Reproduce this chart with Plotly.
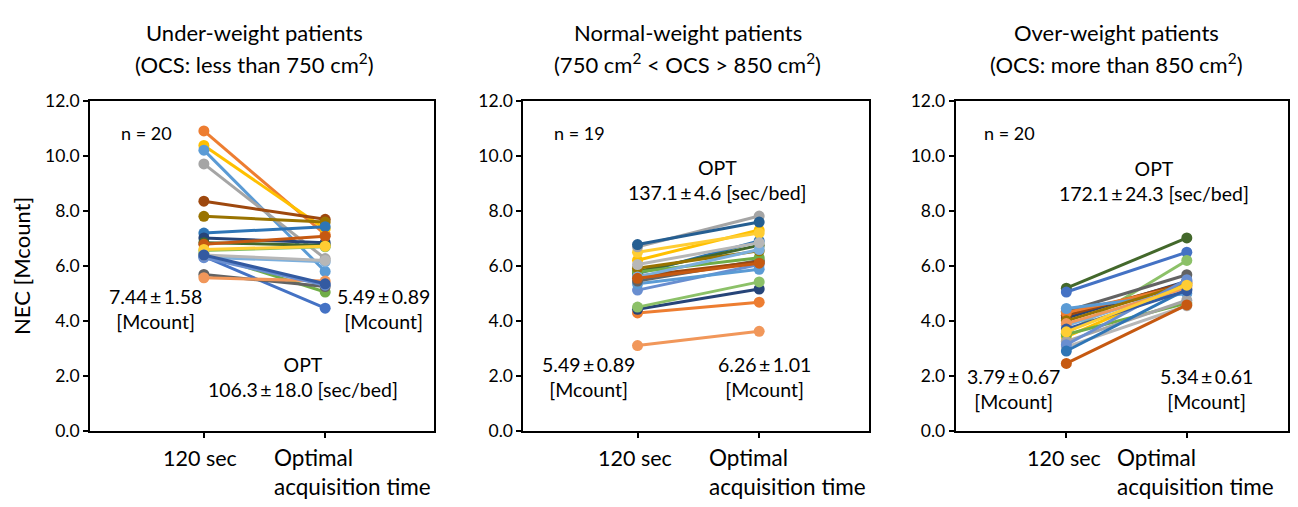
import plotly.graph_objects as go

categories = ["120 sec", "Optimal<br>acquisition time"]

# Under-weight patients (n = 20)
under_120 = [10.92, 10.39, 10.22, 9.72, 8.36, 7.81, 7.20, 7.02, 6.85, 6.79,
             6.45, 6.56, 6.60, 6.32, 6.35, 5.69, 5.57, 6.30, 6.40, 6.40]
under_opt = [7.15, 7.35, 5.80, 6.27, 7.70, 7.60, 7.43, 6.85, 6.75, 7.08,
             5.05, 6.70, 6.72, 6.15, 4.46, 5.25, 5.45, 5.30, 6.20, 5.35]
under_colors = ["#ED7D31", "#FFC000", "#5B9BD5", "#A5A5A5", "#9E480E", "#997300",
                "#2E75B6", "#264478", "#43682B", "#C65911", "#70AD47", "#8CC168",
                "#FFCD33", "#7CAFDD", "#4472C4", "#636363", "#F1975A", "#698ED0",
                "#B7B7B7", "#335AA1"]

# Normal-weight patients (n = 19)
normal_120 = [3.10, 4.29, 4.42, 4.50, 5.12, 5.35, 5.45, 5.63, 5.72, 5.80,
              5.78, 5.92, 6.21, 6.50, 6.70, 6.78, 5.60, 5.55, 6.05]
normal_opt = [3.62, 4.68, 5.16, 5.42, 6.05, 5.88, 6.20, 6.15, 6.91, 6.75,
              6.30, 6.55, 7.31, 7.20, 7.82, 7.60, 6.60, 6.10, 6.85]
normal_colors = ["#F1975A", "#ED7D31", "#264478", "#8CC168", "#698ED0", "#5B9BD5",
                 "#636363", "#9E480E", "#2E75B6", "#43682B", "#70AD47", "#997300",
                 "#FFC000", "#FFCD33", "#A5A5A5", "#255E91", "#7CAFDD", "#C65911",
                 "#B7B7B7"]

# Over-weight patients (n = 20)
over_120 = [5.19, 5.05, 3.55, 4.35, 4.10, 4.20, 4.30, 4.45, 4.00, 3.83,
            3.42, 3.50, 3.25, 3.05, 3.13, 2.90, 2.45, 3.90, 3.70, 3.60]
over_opt = [7.02, 6.50, 6.20, 5.68, 5.45, 5.40, 5.30, 5.00, 5.35, 5.25,
            5.35, 4.65, 4.75, 4.55, 5.50, 5.15, 4.58, 5.20, 5.10, 5.30]
over_colors = ["#43682B", "#4472C4", "#8CC168", "#636363", "#264478", "#9E480E",
               "#ED7D31", "#5B9BD5", "#997300", "#7CAFDD", "#FFC000", "#70AD47",
               "#A5A5A5", "#B7B7B7", "#698ED0", "#2E75B6", "#C65911", "#F1975A",
               "#335AA1", "#FFCD33"]

PM = "\u2009±\u2009"
title_line1 = ["Under-weight patients", "Normal-weight patients", "Over-weight patients"]
title_line2 = ["(OCS: less than 750 cm<sup>2</sup>)",
               "(750 cm<sup>2</sup> &lt; OCS &gt; 850 cm<sup>2</sup>)",
               "(OCS: more than 850 cm<sup>2</sup>)"]
n_labels = ["n = 20", "n = 19", "n = 20"]
left_labels = [f"7.44{PM}1.58<br>[Mcount]", f"5.49{PM}0.89<br>[Mcount]",
               f"3.79{PM}0.67<br>[Mcount]"]
right_labels = [f"5.49{PM}0.89<br>[Mcount]", f"6.26{PM}1.01<br>[Mcount]",
                f"5.34{PM}0.61<br>[Mcount]"]
opt_labels = [f"OPT<br>106.3{PM}18.0 [sec/bed]", f"OPT<br>137.1{PM}4.6 [sec/bed]",
              f"OPT<br>172.1{PM}24.3 [sec/bed]"]
y_ticks = [0, 2, 4, 6, 8, 10, 12]
y_ticklabels = ["0.0", "2.0", "4.0", "6.0", "8.0", "10.0", "12.0"]

FONT = "Lato, 'Open Sans', sans-serif"
# figure sized to fit inside the window together with the page's 8px body margin
OFF = 8
W, H = 1298 - 2 * OFF, 507 - 2 * OFF


def px(x):
    return min(1.0, max(0.0, (x - OFF) / W))


def py(y):
    return min(1.0, max(0.0, 1 - (y - OFF) / H))


panels = [(under_120, under_opt, under_colors),
          (normal_120, normal_opt, normal_colors),
          (over_120, over_opt, over_colors)]

px_left = [90, 524, 957]
px_right = [435, 870, 1297]
x_ranges = [[-0.94, 1.9], [-0.94, 1.9], [-0.92, 1.84]]
y_top, y_bot = 94, 438

fig = go.Figure()
for p, (a, b, cols) in enumerate(panels):
    xa = "x" if p == 0 else f"x{p+1}"
    ya = "y" if p == 0 else f"y{p+1}"
    for v0, v1, c in zip(a, b, cols):
        fig.add_trace(go.Scatter(
            x=[0, 1], y=[v0, v1], mode="lines+markers",
            line=dict(color=c, width=3), marker=dict(color=c, size=11),
            xaxis=xa, yaxis=ya, showlegend=False, hoverinfo="skip"))

layout = dict(width=W, height=H, margin=dict(l=0, r=0, t=0, b=0),
              plot_bgcolor="white", paper_bgcolor="white",
              font=dict(family=FONT, size=18, color="black"), showlegend=False)

annotations = []
centers = [255, 689, 1118]
cat_left = [272, 708, 1117]
cat_c = [200, 636, 1066]
for p in range(3):
    sfx = "" if p == 0 else str(p + 1)
    layout["xaxis" + sfx] = dict(
        domain=[px(px_left[p]), px(px_right[p])], range=x_ranges[p], tickvals=[0, 1],
        ticktext=["", ""], ticks="outside", ticklen=6, tickcolor="black",
        tickwidth=1.5, showline=True, linecolor="black", linewidth=1.5, mirror=True,
        showgrid=False, zeroline=False, anchor="y" + sfx, fixedrange=True)
    layout["yaxis" + sfx] = dict(
        domain=[py(y_bot), py(y_top)], range=[0, 12],
        tickvals=y_ticks, ticktext=y_ticklabels, ticks="outside", ticklen=5,
        tickcolor="black", tickwidth=1.5, showline=True, linecolor="black",
        linewidth=1.5, mirror=True, showgrid=False, zeroline=False,
        anchor="x" + sfx, tickfont=dict(size=17.5), fixedrange=True)
    annotations.append(dict(text=title_line1[p], x=px(centers[p]), y=py(22),
                            xref="paper", yref="paper", showarrow=False,
                            xanchor="center", yanchor="middle", font=dict(size=22)))
    annotations.append(dict(text=title_line2[p], x=px(centers[p]), y=py(55),
                            xref="paper", yref="paper", showarrow=False,
                            xanchor="center", yanchor="middle", font=dict(size=22)))
    annotations.append(dict(text=n_labels[p], x=-0.70, y=10.85, xref="x" + sfx,
                            yref="y" + sfx, xanchor="left", showarrow=False,
                            font=dict(size=18)))
    annotations.append(dict(text=categories[0], x=px(cat_c[p]), y=py(467),
                            xref="paper", yref="paper", showarrow=False,
                            xanchor="center", yanchor="middle", font=dict(size=21.5)))
    annotations.append(dict(text=categories[1], x=px(cat_left[p]), y=py(481),
                            xref="paper", yref="paper", xanchor="left",
                            yanchor="middle", align="left", showarrow=False,
                            font=dict(size=22.5)))

lab_pos = [((-0.40, 4.43), (1.48, 4.43), (0.82, 1.95)),
           ((-0.40, 1.95), (1.04, 1.95), (0.66, 9.14)),
           ((-0.44, 1.50), (1.16, 1.50), (0.73, 9.10))]
for p in range(3):
    sfx = "" if p == 0 else str(p + 1)
    (lx, ly), (rx, ry), (ox, oy) = lab_pos[p]
    for txt, xx, yy in [(left_labels[p], lx, ly), (right_labels[p], rx, ry),
                        (opt_labels[p], ox, oy)]:
        annotations.append(dict(text=txt, x=xx, y=yy, xref="x" + sfx, yref="y" + sfx,
                                xanchor="center", yanchor="middle",
                                showarrow=False, font=dict(size=19.5), align="center"))

annotations.append(dict(text="NEC [Mcount]", x=px(22), y=py(266), xref="paper",
                        yref="paper", textangle=-90, showarrow=False,
                        xanchor="center", yanchor="middle", font=dict(size=22)))
layout["annotations"] = annotations
fig.update_layout(**layout)
fig.write_html("out.html")
